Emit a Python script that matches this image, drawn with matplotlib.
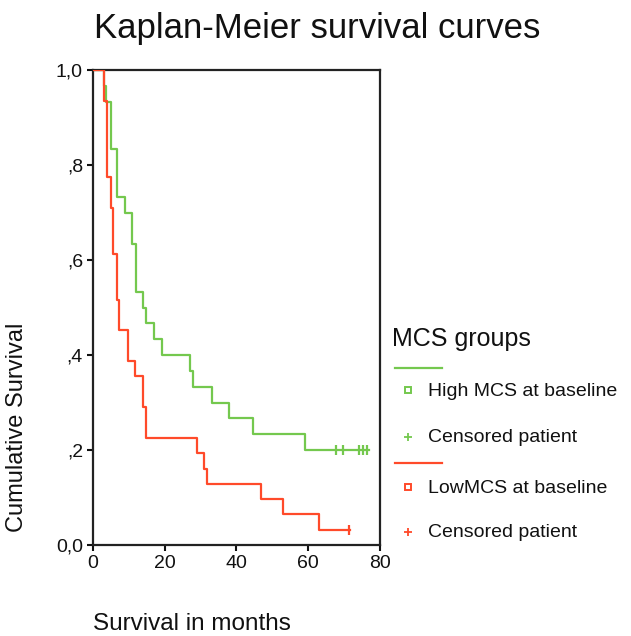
import numpy as np
import matplotlib
matplotlib.use("Agg")
import matplotlib.pyplot as plt
from matplotlib.lines import Line2D

plt.rcParams['font.family'] = ['Liberation Sans', 'DejaVu Sans']

# step curves (time in months, cumulative survival)
high_t = [0, 3.1, 3.6, 5.1, 6.85, 9.0, 11.0, 12.0, 13.9, 14.8, 17.2, 19.2,
          27.1, 28.0, 33.1, 38.0, 44.7, 59.1, 77.0]
high_s = [1.0, .967, .933, .833, .733, .700, .633, .533, .500, .467, .433, .400,
          .367, .333, .300, .267, .233, .200, .200]
high_cens = [67.7, 69.8, 74.2, 75.2, 76.3]

low_t = [0, 3.15, 3.9, 5.1, 5.6, 6.7, 7.4, 9.9, 11.8, 13.9, 14.8, 29.0,
         31.1, 31.9, 46.8, 53.1, 63.0, 71.7]
low_s = [1.0, .935, .774, .710, .613, .516, .452, .387, .355, .290, .226, .194,
         .161, .129, .097, .065, .032, .032]
low_cens = [71.5]

xticks = [0, 20, 40, 60, 80]
yticks = [0.0, 0.2, 0.4, 0.6, 0.8, 1.0]
ytick_labels = ['0,0', ',2', ',4', ',6', ',8', '1,0']

green = '#74c84e'
red = '#ff4a2a'

W, H = 631, 636
fig = plt.figure(figsize=(W / 100, H / 100), dpi=100)
ax = fig.add_axes([92.7 / W, 1 - 545 / H, (380 - 92.7) / W, (545 - 70) / H])

ax.step(high_t, high_s, where='post', color=green, lw=1.6, zorder=3)
ax.step(low_t, low_s, where='post', color=red, lw=1.6, zorder=4)
# censored patients sit on the last plateau of each curve
ax.plot(high_cens, [high_s[-1]] * len(high_cens), ls='none',
        marker='|', ms=7, mew=1.6, color=green, zorder=3)
ax.plot(low_cens, [low_s[-1]] * len(low_cens), ls='none',
        marker='|', ms=7, mew=1.6, color=red, zorder=4)

ax.set_xlim(0, 80)
ax.set_ylim(0, 1)
ax.set_xticks(xticks)
ax.set_xticklabels([str(x) for x in xticks])
ax.set_yticks(yticks)
ax.set_yticklabels(ytick_labels)
ax.tick_params(direction='out', length=4, width=1.5, labelsize=14, pad=3,
               colors='#111111')
for sp in ax.spines.values():
    sp.set_linewidth(1.6)
    sp.set_color('#222222')

# titles / axis labels placed like the SPSS output
fig.text(317.5 / W, 1 - 38 / H, 'Kaplan-Meier survival curves', fontsize=25,
         ha='center', va='baseline', color='#111111')
fig.text(17 / W, 1 - 427 / H, 'Cumulative Survival', fontsize=17, rotation=90,
         ha='center', va='center', color='#111111')
fig.text(93 / W, 1 - 624 / H, 'Survival in months', fontsize=17.5,
         ha='left', va='center', color='#111111')

# legend drawn by hand
def fx(px):
    return px / W

def fy(py):
    return 1 - py / H

fig.text(fx(392), fy(339), 'MCS groups', fontsize=18, ha='left', va='center',
         color='#111111')
rows = [
    (green, 367.7, 390, 437, 'High MCS at baseline'),
    (red, 463.3, 487, 532, 'LowMCS at baseline'),
]
for col, yline, ysq, yplus, lab in rows:
    fig.add_artist(Line2D([fx(395), fx(442)], [fy(yline), fy(yline)],
                          color=col, lw=1.6, transform=fig.transFigure))
    fig.add_artist(Line2D([fx(408.3)], [fy(ysq)], marker='s', ms=4, mfc='white',
                          mec=col, mew=1.4, ls='none', transform=fig.transFigure))
    fig.add_artist(Line2D([fx(408.3)], [fy(yplus)], marker='+', ms=6, mew=1.3,
                          color=col, ls='none', transform=fig.transFigure))
    fig.text(fx(428), fy(ysq + 1.5), lab, fontsize=14, ha='left', va='center',
             color='#111111')
    fig.text(fx(428), fy(yplus + 0.5), 'Censored patient', fontsize=14,
             ha='left', va='center', color='#111111')

fig.savefig('out.png', dpi=100)
